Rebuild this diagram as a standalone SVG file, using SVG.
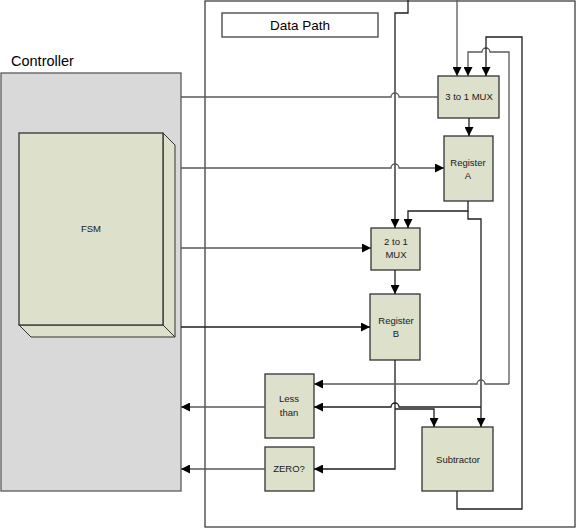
<svg xmlns="http://www.w3.org/2000/svg" width="577" height="529" viewBox="0 0 577 529">
  <style>
    .frame { fill: #ffffff; stroke: #404040; stroke-width: 1.3; }
    .ctrl { fill: #d9d9d9; stroke: #595959; stroke-width: 1.3; }
    .node { fill: #dde0cb; stroke: #333333; stroke-width: 1.3; }
    .side { fill: #dde0cb; stroke: #333333; stroke-width: 1; }
    .wire { fill: none; stroke: #1f1f1f; stroke-width: 1.3; }
    .wire.grey { stroke: #595959; }
    .lbl { font-family: "Liberation Sans", Arial, sans-serif; font-size: 9.5px; fill: #1a1a1a; text-anchor: middle; }
    .title { font-family: "Liberation Sans", Arial, sans-serif; fill: #000000; }
  </style>
  <defs>
    <marker id="arrow" viewBox="0 0 10 10" refX="10" refY="5" markerWidth="10" markerHeight="9" markerUnits="userSpaceOnUse" orient="auto">
      <path d="M0,0 L10,5 L0,10 z" fill="#000000"/>
    </marker>
  </defs>

  <rect width="577" height="529" fill="#ffffff"/>

  <!-- Data path frame -->
  <g id="datapath">
    <rect class="frame" x="205" y="1" width="370" height="526"/>
    <rect class="frame" x="222" y="13" width="156" height="24"/>
    <text class="title" x="300" y="30" font-size="13.5" text-anchor="middle">Data Path</text>
  </g>

  <!-- Controller -->
  <g id="controller">
    <text class="title" x="11" y="66" font-size="14.5">Controller</text>
    <rect class="ctrl" x="1" y="73" width="180" height="418"/>
  </g>

  <!-- FSM block drawn as a box with depth -->
  <g id="fsm">
    <polygon class="side" points="163,133 175,145 175,337 163,325"/>
    <polygon class="side" points="19,325 163,325 175,337 31,337"/>
    <rect class="node" x="19" y="133" width="144" height="192"/>
    <text class="lbl" x="91" y="232" font-size="9">FSM</text>
  </g>

  <g id="mux3">
    <rect class="node" x="438" y="76" width="61" height="42"/>
    <text class="lbl" x="469" y="100">3 to 1 MUX</text>
  </g>

  <g id="regA">
    <rect class="node" x="444" y="136" width="49" height="65"/>
    <text class="lbl" x="468" y="166">Register</text>
    <text class="lbl" x="468" y="179">A</text>
  </g>

  <g id="mux2">
    <rect class="node" x="371" y="228" width="49" height="42"/>
    <text class="lbl" x="396" y="245">2 to 1</text>
    <text class="lbl" x="396" y="258">MUX</text>
  </g>

  <g id="regB">
    <rect class="node" x="370" y="294" width="50" height="66"/>
    <text class="lbl" x="396" y="324">Register</text>
    <text class="lbl" x="396" y="337">B</text>
  </g>

  <g id="lessthan">
    <rect class="node" x="265" y="374" width="49" height="64"/>
    <text class="lbl" x="289" y="402">Less</text>
    <text class="lbl" x="289" y="416">than</text>
  </g>

  <g id="zero">
    <rect class="node" x="265" y="447" width="49" height="44"/>
    <text class="lbl" x="289" y="472">ZERO?</text>
  </g>

  <g id="subtractor">
    <rect class="node" x="422" y="427" width="71" height="64"/>
    <text class="lbl" x="458" y="463">Subtractor</text>
  </g>

  <g id="connectors">
    <!-- external inputs from the top -->
    <path class="wire grey" d="M457,0 V76" marker-end="url(#arrow)"/>
    <path class="wire" d="M408,0 V13 H395 V228" marker-end="url(#arrow)"/>

    <!-- feedback paths into the 3 to 1 MUX -->
    <path class="wire grey" d="M509,384 V52 H490 A4,4 0 0 0 482,52 H468 V76" marker-end="url(#arrow)"/>
    <path class="wire" d="M457,491 V509 H522 V37 H486 V76" marker-end="url(#arrow)"/>

    <!-- controller select / load lines -->
    <path class="wire grey" d="M181,97 H391 A4,4 0 0 1 399,97 H438"/>
    <path class="wire grey" d="M181,168 H391 A4,4 0 0 1 399,168 H444" marker-end="url(#arrow)"/>
    <path class="wire grey" d="M181,248 H371" marker-end="url(#arrow)"/>
    <path class="wire" d="M181,327 H370" marker-end="url(#arrow)"/>

    <!-- MUX3 to register A -->
    <path class="wire" d="M469,118 V136" marker-end="url(#arrow)"/>

    <!-- register A fan-out -->
    <path class="wire" d="M468,201 V211 H408 V228" marker-end="url(#arrow)"/>
    <path class="wire" d="M468,211 V219 H481 V427" marker-end="url(#arrow)"/>

    <!-- MUX2 to register B -->
    <path class="wire" d="M395,270 V294" marker-end="url(#arrow)"/>

    <!-- register B fan-out -->
    <path class="wire" d="M395,360 V469 H314" marker-end="url(#arrow)"/>
    <path class="wire" d="M395,409 H434 V427" marker-end="url(#arrow)"/>

    <!-- comparator inputs -->
    <path class="wire grey" d="M509,384 H485 A4,4 0 0 0 477,384 H314" marker-end="url(#arrow)"/>
    <path class="wire" d="M481,407 H399 A4,4 0 0 0 391,407 H314" marker-end="url(#arrow)"/>

    <!-- status signals back to the controller -->
    <path class="wire grey" d="M265,407 H181" marker-end="url(#arrow)"/>
    <path class="wire grey" d="M265,469 H181" marker-end="url(#arrow)"/>
  </g>
</svg>
